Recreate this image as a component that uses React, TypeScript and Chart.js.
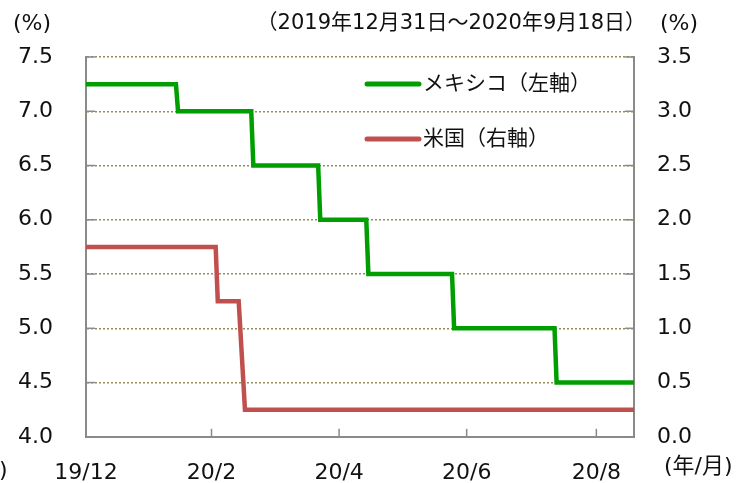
import { useEffect, useRef } from 'react';
import { Chart, registerables } from 'chart.js';

Chart.register(...registerables);

// x values are days counted from 2019-12-31
const xTickDays = [0, 60, 121, 182, 244];
const xTickLabels = ['19/12', '20/2', '20/4', '20/6', '20/8'];
const xMaxDay = 262; // 2020-09-18

const mexicoDays = [0, 43, 44, 79, 80, 111, 112, 134, 135, 175, 176, 224, 225, 262];
const mexicoRates = [7.25, 7.25, 7.0, 7.0, 6.5, 6.5, 6.0, 6.0, 5.5, 5.5, 5.0, 5.0, 4.5, 4.5];

const usDays = [0, 62, 63, 73, 76, 262];
const usRates = [1.75, 1.75, 1.25, 1.25, 0.25, 0.25];

const leftTicks = [4.0, 4.5, 5.0, 5.5, 6.0, 6.5, 7.0, 7.5];
const rightTicks = [0.0, 0.5, 1.0, 1.5, 2.0, 2.5, 3.0, 3.5];

const seriesNames = ['メキシコ（左軸）', '米国（右軸）'];
const seriesColors = ['#009e00', '#c0504d'];
const periodText = '（2019年12月31日～2020年9月18日）';
const unitLeft = '(%)';
const unitRight = '(%)';
const unitX = '(年/月)';

const FONT = "'DejaVu Sans', 'Noto Sans CJK JP', sans-serif";
const GRAY = '#8a8a8a';
const GRID = '#968c58';
const TEXT = '#111111';

export default function App() {
  const ref = useRef<HTMLCanvasElement>(null);

  useEffect(() => {
    if (!ref.current) return;

    const extras = {
      id: 'extras',
      beforeDatasetsDraw(chart: any) {
        const { ctx, chartArea: a, scales } = chart;
        ctx.save();
        ctx.strokeStyle = GRAY;
        ctx.lineWidth = 1.5;
        const seg = (x1: number, y1: number, x2: number, y2: number) => {
          ctx.beginPath();
          ctx.moveTo(x1, y1);
          ctx.lineTo(x2, y2);
          ctx.stroke();
        };
        for (const v of leftTicks) {
          const y = scales.y.getPixelForValue(v);
          seg(a.left, y, a.left + 9, y);
        }
        for (const v of rightTicks) {
          const y = scales.y2.getPixelForValue(v);
          seg(a.right - 9, y, a.right, y);
        }
        for (const v of xTickDays.slice(1)) {
          const x = scales.x.getPixelForValue(v);
          seg(x, a.bottom, x, a.bottom - 8);
        }
        ctx.restore();
      },
      afterDraw(chart: any) {
        const { ctx } = chart;
        ctx.save();
        ctx.fillStyle = TEXT;
        ctx.textBaseline = 'middle';

        ctx.font = `22px ${FONT}`;
        ctx.textAlign = 'center';
        ctx.fillText(unitLeft, 32, 24);
        ctx.fillText(unitRight, 679, 24);

        ctx.font = `21px ${FONT}`;
        ctx.textAlign = 'right';
        ctx.fillText(periodText, 646, 24);

        ctx.font = `22px ${FONT}`;
        ctx.textAlign = 'left';
        ctx.fillText(unitX, 664, 467);
        ctx.fillText(')', -1, 471);

        // legend
        const legendY = [84, 139];
        chart.data.datasets.forEach((ds: any, i: number) => {
          ctx.strokeStyle = ds.borderColor;
          ctx.lineWidth = 5;
          ctx.lineCap = 'round';
          ctx.beginPath();
          ctx.moveTo(367, legendY[i]);
          ctx.lineTo(419, legendY[i]);
          ctx.stroke();
          ctx.font = `21px ${FONT}`;
          ctx.textAlign = 'left';
          ctx.fillStyle = TEXT;
          ctx.fillText(ds.label, 423, legendY[i] + 1);
        });
        ctx.restore();
      },
    };

    const chart = new Chart(ref.current, {
      type: 'line',
      data: {
        datasets: [
          {
            label: seriesNames[0],
            data: mexicoDays.map((d, i) => ({ x: d, y: mexicoRates[i] })),
            borderColor: seriesColors[0],
            backgroundColor: seriesColors[0],
            borderWidth: 4.5,
            pointRadius: 0,
            tension: 0,
            yAxisID: 'y',
          },
          {
            label: seriesNames[1],
            data: usDays.map((d, i) => ({ x: d, y: usRates[i] })),
            borderColor: seriesColors[1],
            backgroundColor: seriesColors[1],
            borderWidth: 4.5,
            pointRadius: 0,
            tension: 0,
            yAxisID: 'y2',
          },
        ],
      },
      options: {
        responsive: false,
        animation: false,
        events: [],
        layout: { padding: { top: 57, left: 0, right: 0, bottom: 0 } },
        plugins: {
          legend: { display: false },
          title: { display: false },
          tooltip: { enabled: false },
        },
        scales: {
          x: {
            type: 'linear',
            min: 0,
            max: xMaxDay,
            afterBuildTicks: (s: any) => {
              s.ticks = xTickDays.map((v) => ({ value: v }));
            },
            afterFit: (s: any) => {
              s.height = 46;
            },
            ticks: {
              autoSkip: false,
              maxRotation: 0,
              padding: 23,
              font: { family: FONT, size: 22 },
              color: TEXT,
              callback: (v: any) => {
                const i = xTickDays.indexOf(Number(v));
                return i >= 0 ? xTickLabels[i] : '';
              },
            },
            grid: { display: true, drawOnChartArea: false, drawTicks: false },
            border: { display: true, color: GRAY, width: 2 },
          },
          y: {
            position: 'left',
            min: 4,
            max: 7.5,
            afterBuildTicks: (s: any) => {
              s.ticks = leftTicks.map((v) => ({ value: v }));
            },
            afterFit: (s: any) => {
              s.width = 86;
            },
            ticks: {
              padding: 33,
              font: { family: FONT, size: 22 },
              color: TEXT,
              callback: (v: any) => Number(v).toFixed(1),
            },
            grid: { color: GRID, lineWidth: 1.5, drawTicks: false },
            border: { display: true, color: GRAY, width: 2, dash: [2, 2] },
          },
          y2: {
            position: 'right',
            min: 0,
            max: 3.5,
            afterBuildTicks: (s: any) => {
              s.ticks = rightTicks.map((v) => ({ value: v }));
            },
            afterFit: (s: any) => {
              s.width = 105;
            },
            ticks: {
              padding: 23,
              font: { family: FONT, size: 22 },
              color: TEXT,
              callback: (v: any) => Number(v).toFixed(1),
            },
            grid: { drawOnChartArea: false, drawTicks: false },
            border: { display: true, color: GRAY, width: 2 },
          },
        },
      },
      plugins: [extras],
    });

    return () => chart.destroy();
  }, []);

  return (
    <div style={{ position: 'absolute', left: 0, top: 0, width: 739, height: 483, background: '#ffffff' }}>
      <canvas ref={ref} width={739} height={483} style={{ display: 'block' }} />
    </div>
  );
}
